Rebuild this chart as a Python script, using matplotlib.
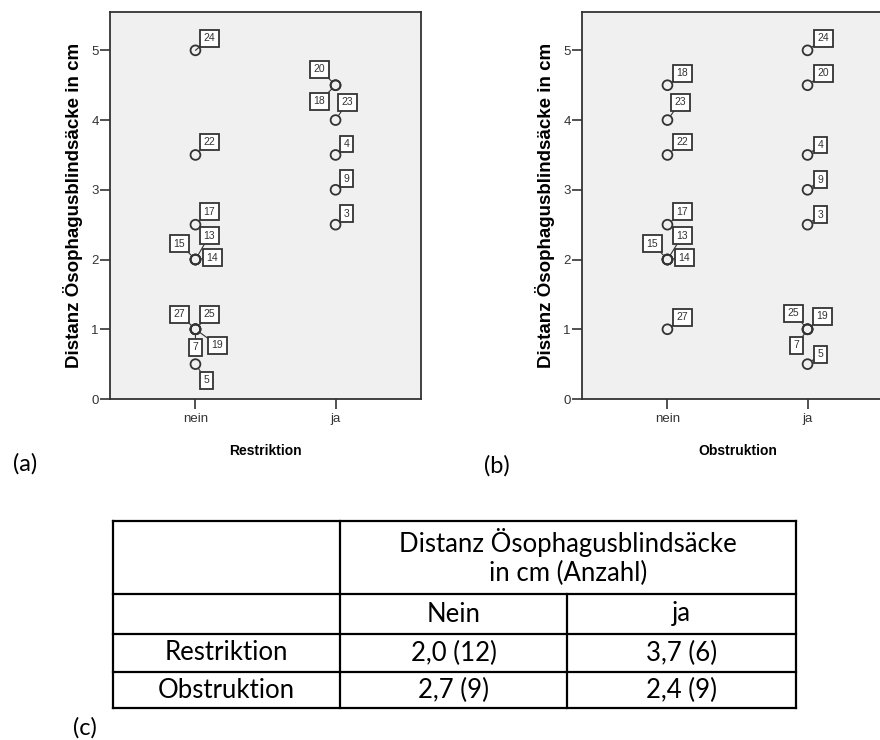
"""
Scatter of Distanz Oesophagusblindsaecke by Restriktion / Obstruktion, plus summary table
"""

import matplotlib
matplotlib.use('Agg')
import matplotlib.pyplot as plt
from matplotlib.lines import Line2D

# ---- data ----
categories = ['nein', 'ja']
y_ticks = [0, 1, 2, 3, 4, 5]
y_label = 'Distanz Ösophagusblindsäcke in cm'

restr_case = [24, 22, 17, 13, 15, 14, 27, 25, 19, 7, 5, 20, 18, 23, 4, 9, 3]
restr_group = ['nein', 'nein', 'nein', 'nein', 'nein', 'nein', 'nein', 'nein',
               'nein', 'nein', 'nein', 'ja', 'ja', 'ja', 'ja', 'ja', 'ja']
restr_dist = [5.0, 3.5, 2.5, 2.0, 2.0, 2.0, 1.0, 1.0, 1.0, 1.0, 0.5,
              4.5, 4.5, 4.0, 3.5, 3.0, 2.5]

obstr_case = [18, 23, 22, 17, 13, 15, 14, 27, 24, 20, 4, 9, 3, 25, 19, 7, 5]
obstr_group = ['nein', 'nein', 'nein', 'nein', 'nein', 'nein', 'nein', 'nein',
               'ja', 'ja', 'ja', 'ja', 'ja', 'ja', 'ja', 'ja', 'ja']
obstr_dist = [4.5, 4.0, 3.5, 2.5, 2.0, 2.0, 2.0, 1.0,
              5.0, 4.5, 3.5, 3.0, 2.5, 1.0, 1.0, 1.0, 0.5]

table_header = 'Distanz Ösophagusblindsäcke\nin cm (Anzahl)'
table_cols = ['Nein', 'ja']
table_rows = ['Restriktion', 'Obstruktion']
table_vals = [['2,0 (12)', '3,7 (6)'],
              ['2,7 (9)', '2,4 (9)']]

# label box offsets (pixels) for each case, per panel
restr_offsets = {24: (14, 12), 22: (14, 13), 17: (14, 13), 13: (14, 24),
                 15: (-16, 16), 14: (17, 2), 27: (-16, 15), 25: (14, 15),
                 19: (22, -16), 7: (0, -18), 5: (11, -16), 20: (-16, 16),
                 18: (-16, -16), 23: (12, 18), 4: (11, 11), 9: (11, 11), 3: (11, 11)}
obstr_offsets = {18: (15, 12), 23: (13, 18), 22: (15, 13), 17: (15, 13),
                 13: (15, 24), 15: (-15, 16), 14: (17, 2), 27: (15, 12),
                 24: (16, 12), 20: (16, 12), 4: (13, 10), 9: (13, 10), 3: (13, 10),
                 25: (-14, 16), 19: (15, 13), 7: (-11, -16), 5: (13, 10)}

W, H = 880, 740
fig = plt.figure(figsize=(W / 100, H / 100), dpi=100)
plt.rcParams['font.family'] = ['Liberation Sans', 'DejaVu Sans']

INK = '#333333'


def scatter_panel(ax, cases, groups, dists, offsets, xlabel):
    xs = [categories.index(g) + 1 for g in groups]
    ax.set_facecolor('#f0f0f0')
    ax.scatter(xs, dists, s=50, facecolors='none', edgecolors=INK,
               linewidths=1.3, zorder=3)
    for c, x, y in zip(cases, xs, dists):
        dx, dy = offsets[c]
        ax.annotate(str(c), xy=(x, y), xytext=(dx, dy),
                    textcoords='offset pixels', ha='center', va='center',
                    fontsize=7.5, color=INK, zorder=4,
                    bbox=dict(boxstyle='square,pad=0.33', fc='white',
                              ec=INK, lw=1.3),
                    arrowprops=dict(arrowstyle='-', color=INK, lw=0.8,
                                    shrinkA=0, shrinkB=4))
    ax.set_xlim(0.39, 2.61)
    ax.set_ylim(0, 5.55)
    ax.set_xticks([1, 2])
    ax.set_xticklabels(categories)
    ax.set_yticks(y_ticks)
    ax.tick_params(direction='out', length=7, width=1.2, color=INK,
                   labelsize=9.5, labelcolor=INK, pad=1)
    ax.tick_params(axis='x', pad=3)
    for sp in ax.spines.values():
        sp.set_color(INK)
        sp.set_linewidth(1.3)
    ax.set_xlabel(xlabel, fontsize=10, fontweight='bold', labelpad=14)
    ax.set_ylabel(y_label, fontsize=13.5, fontweight='bold', labelpad=6)


ax1 = fig.add_axes([110 / W, 1 - 399 / H, 311 / W, 387 / H])
scatter_panel(ax1, restr_case, restr_group, restr_dist, restr_offsets, 'Restriktion')

ax2 = fig.add_axes([582 / W, 1 - 399 / H, 311 / W, 387 / H])
scatter_panel(ax2, obstr_case, obstr_group, obstr_dist, obstr_offsets, 'Obstruktion')

fig.text(13 / W, 1 - 464 / H, '(a)', fontsize=17, va='center', family='Lato')
fig.text(484 / W, 1 - 466 / H, '(b)', fontsize=17, va='center', family='Lato')
fig.text(73 / W, 1 - 728 / H, '(c)', fontsize=17, va='center', family='Lato')

# ---- table ----
tx0, tx1, tx2, tx3 = 113, 340, 567, 796
ty = [521, 594, 634, 672, 708]


def hline(x0, x1, y):
    fig.add_artist(Line2D([x0 / W, x1 / W], [1 - y / H, 1 - y / H],
                          color='black', lw=1.6))


def vline(x, y0, y1):
    fig.add_artist(Line2D([x / W, x / W], [1 - y0 / H, 1 - y1 / H],
                          color='black', lw=1.6))


for y in ty:
    hline(tx0, tx3, y)
vline(tx0, ty[0], ty[-1])
vline(tx1, ty[0], ty[-1])
vline(tx3, ty[0], ty[-1])
vline(tx2, ty[1], ty[-1])

tfont = dict(fontsize=18.5, family='Lato', ha='center', va='center')
fig.text((tx1 + tx3) / 2 / W, 1 - 557 / H, table_header, linespacing=1.15, **tfont)
fig.text((tx1 + tx2) / 2 / W, 1 - 614 / H, table_cols[0], **tfont)
fig.text((tx2 + tx3) / 2 / W, 1 - 614 / H, table_cols[1], **tfont)
for i, name in enumerate(table_rows):
    yc = (ty[2 + i] + ty[3 + i]) / 2
    fig.text((tx0 + tx1) / 2 / W, 1 - yc / H, name, **tfont)
    fig.text((tx1 + tx2) / 2 / W, 1 - yc / H, table_vals[i][0], **tfont)
    fig.text((tx2 + tx3) / 2 / W, 1 - yc / H, table_vals[i][1], **tfont)

fig.savefig('out.png', dpi=100)
